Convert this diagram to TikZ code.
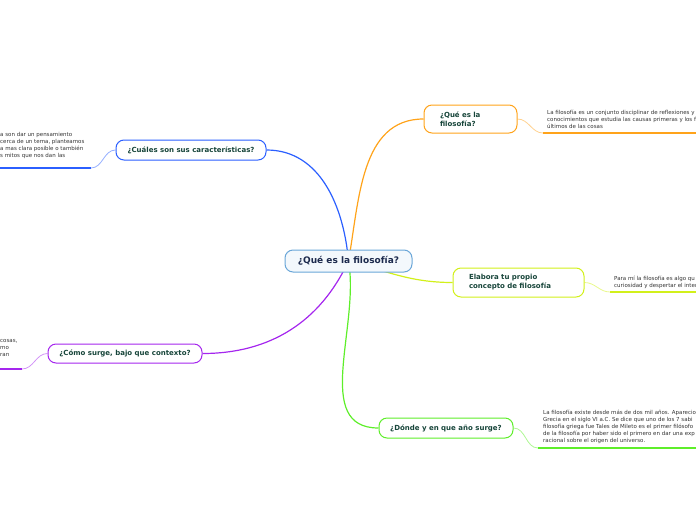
\documentclass[tikz,border=0pt]{standalone}
\usepackage{fontspec}
\setmainfont{DejaVu Sans}
\usetikzlibrary{positioning, calc, backgrounds}

\definecolor{topictext}{HTML}{17453A}
\definecolor{maintext}{HTML}{1C2A4D}
\definecolor{notetext}{HTML}{333333}
\definecolor{mainline}{HTML}{6AA6D8}
\definecolor{orangeline}{HTML}{FFA31A}
\definecolor{limeline}{HTML}{D2F01A}
\definecolor{greenline}{HTML}{5EEE2A}
\definecolor{blueline}{HTML}{2B5FFF}
\definecolor{purpleline}{HTML}{A526EE}

\begin{document}
\begin{tikzpicture}[
    x=1pt, y=-1pt,
    topic/.style={rectangle, rounded corners=8pt, draw, line width=1pt, fill=white, font=\bfseries\fontsize{7}{9}\selectfont, text=topictext, inner sep=0pt},
    note/.style={anchor=north west, align=left, inner sep=0pt, font=\fontsize{5.5}{7}\selectfont, text=notetext},
    branch/.style={line width=1.2pt},
    twig/.style={line width=0.8pt},
    underline/.style={line width=1.2pt},
]

    \useasboundingbox (0,0) rectangle (696,520);
    \coordinate (leftedge) at (0,0);
    \coordinate (rightedge) at (696,0);

    % Central topic
    \node[topic, draw=mainline, fill=mainline!8, text=maintext, font=\bfseries\fontsize{9}{11}\selectfont, minimum width=127pt, minimum height=22pt] (main) at (348.5,261) {¿Qué es la filosofía?};

    % Main topics
    \node[topic, draw=orangeline, text width=61pt, align=left, inner xsep=16pt, minimum height=28pt] (q_what) at ($(main)+(122,-142)$) {¿Qué es la\\filosofía?};
    \node[topic, draw=limeline, text width=99pt, align=left, inner xsep=16pt, minimum height=29pt] (q_own) at ($(main)+(170,21.5)$) {Elabora tu propio\\concepto de filosofía};
    \node[topic, draw=greenline, minimum width=134pt, minimum height=20pt] (q_where) at ($(main)+(97.5,167)$) {¿Dónde y en que año surge?};
    \node[topic, draw=blueline, minimum width=150pt, minimum height=20pt] (q_char) at ($(main)+(-157.5,-111)$) {¿Cuáles son sus características?};
    \node[topic, draw=purpleline, minimum width=154pt, minimum height=19pt] (q_how) at ($(main)+(-223.5,92.5)$) {¿Cómo surge, bajo que contexto?};

    % Notes
    \node[note] (n_what) at (547,110) {La filosofía  es un conjunto disciplinar de reflexiones y\\conocimientos que estudia las causas primeras y los f\\últimos de las cosas};
    \node[note] (n_own) at (614,276) {Para mí la filosofía es algo qu\\curiosidad y despertar el inter};
    \node[note] (n_where) at (543,410) {La filosofía existe desde más de dos mil años. Aparecio\\Grecia en el siglo VI a.C. Se dice que uno de los 7 sabi\\filosofía griega fue Tales de Mileto es el primer filósofo\\de la filosofía por haber sido el primero en dar una exp\\racional sobre el origen del universo.};
    \node[note] (n_char) at (0,132) {a son dar un pensamiento\\cerca de un tema, planteamos\\a mas clara posible o también\\s mitos que nos dan las};
    \node[note] (n_how) at (0,339) {cosas,\\mo\\ran};

    % Note underlines
    \coordinate (u_what) at (543,133);
    \coordinate (u_own) at (610,292);
    \coordinate (u_where) at (538,448);
    \coordinate (u_char) at (91,168);
    \coordinate (u_how) at (22,369);

    \draw[underline, orangeline] (u_what) -- (u_what -| rightedge);
    \draw[underline, limeline] (u_own) -- (u_own -| rightedge);
    \draw[underline, greenline] (u_where) -- (u_where -| rightedge);
    \draw[underline, blueline] (u_char) -- (u_char -| leftedge);
    \draw[underline, purpleline] (u_how) -- (u_how -| leftedge);

    \begin{scope}[on background layer]
        % Branches from the central topic
        \draw[branch, blueline] (main.center) to[out=95, in=0] (q_char.east);
        \draw[branch, orangeline] (main.center) to[out=80, in=180] (q_what.west);
        \draw[branch, limeline] (main.center) to[out=-15, in=180] (q_own.west);
        \draw[branch, greenline] (main.center) to[out=-80, in=180] (q_where.west);
        \draw[branch, purpleline] (main.center) to[out=-115, in=0] (q_how.east);

        % Twigs to the notes
        \draw[twig, orangeline!50] (q_what.east) to[out=0, in=180] (u_what);
        \draw[twig, limeline!50] (q_own.east) to[out=0, in=180] (u_own);
        \draw[twig, greenline!50] (q_where.east) to[out=0, in=180] (u_where);
        \draw[twig, blueline!50] (q_char.west) to[out=180, in=0] (u_char);
        \draw[twig, purpleline!50] (q_how.west) to[out=180, in=0] (u_how);
    \end{scope}

\end{tikzpicture}
\end{document}
